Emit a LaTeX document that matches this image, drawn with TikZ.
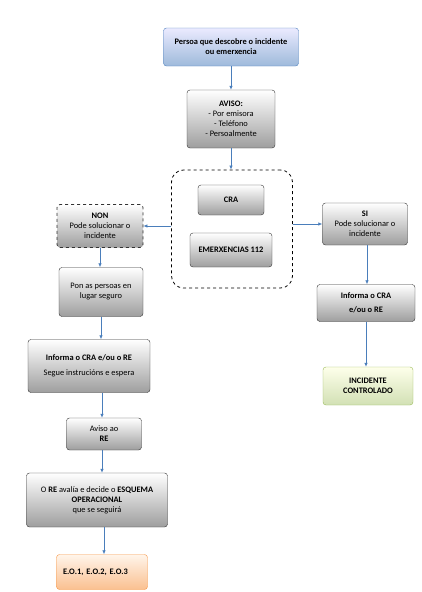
\documentclass[tikz,border=0pt]{standalone}
\usepackage{fontspec}
\setmainfont{Carlito}
\usetikzlibrary{arrows.meta,shadings}

\definecolor{arrowblue}{HTML}{4A7EBB}
\definecolor{blueline}{HTML}{4F81BD}
\definecolor{greenline}{HTML}{9BBB59}
\definecolor{orangeline}{HTML}{F79646}

\begin{document}
\begin{tikzpicture}[
  x=1pt, y=-1pt,
  >={Latex[length=4pt,width=3.5pt]},
  every node/.style={font=\fontsize{8.4}{10}\selectfont, align=center, inner sep=2pt},
  graybox/.style={draw=black!80, rounded corners=3pt, top color=white, bottom color=black!38, thin},
  bluebox/.style={draw=blueline, rounded corners=3pt, top color=blue!8, bottom color=blueline!55, thin},
  greenbox/.style={draw=greenline, rounded corners=3pt, top color=green!6!yellow!8, bottom color=greenline!45, thin},
  orangebox/.style={draw=orangeline, rounded corners=3pt, top color=orange!8, bottom color=orangeline!60, thin},
  arr/.style={->, draw=arrowblue, fill=arrowblue, line width=0.7pt}
]
\useasboundingbox (0,0) rectangle (422,592);

% Start
\node[bluebox, minimum width=135pt, minimum height=38pt] (persoa) at (231,47)
  {\textbf{Persoa que descobre o incidente}\\\textbf{ou emerxencia}};
\node[graybox, minimum width=88pt, minimum height=58pt] (aviso) at (231,119)
  {\textbf{AVISO:}\\- Por emisora\\- Teléfono\\- Persoalmente};

% Dashed group
\node[draw, dashed, thick, rounded corners=12pt, minimum width=121pt, minimum height=118pt] (grupo) at (232,229) {};
\node[graybox, minimum width=66pt, minimum height=30pt] (cra) at (231,200) {\textbf{CRA}};
\node[graybox, minimum width=82pt, minimum height=34pt] (emer) at (231,250) {\textbf{EMERXENCIAS 112}};

% Left branch
\node[graybox, dashed, thick, minimum width=86pt, minimum height=43pt] (non) at (100,226)
  {\textbf{NON}\\Pode solucionar o\\incidente};
\node[graybox, minimum width=84pt, minimum height=49pt] (pon) at (101,292)
  {Pon as persoas en\\lugar seguro};
\node[graybox, minimum width=122pt, minimum height=53pt] (informaL) at (89,366)
  {\textbf{Informa o CRA e/ou o RE}\\[5pt]Segue instrucións e espera};
\node[graybox, minimum width=75pt, minimum height=32pt] (avisore) at (104,434)
  {Aviso ao\\\textbf{RE}};
\node[graybox, minimum width=141pt, minimum height=54pt] (avalia) at (97,500)
  {O \textbf{RE} avalía e decide o \textbf{ESQUEMA}\\\textbf{OPERACIONAL}\\que se seguirá};
\node[orangebox, minimum width=91pt, minimum height=35pt, text width=78pt, align=left] (eo) at (102,572)
  {\textbf{E.O.1, E.O.2, E.O.3}};

% Right branch
\node[graybox, minimum width=85pt, minimum height=42pt] (si) at (365,224)
  {\textbf{SI}\\Pode solucionar o\\incidente};
\node[graybox, minimum width=98pt, minimum height=37pt] (informaR) at (366,303)
  {\textbf{Informa o CRA}\\[4pt]\textbf{e/ou o RE}};
\node[greenbox, minimum width=90pt, minimum height=38pt] (control) at (368,386)
  {\textbf{INCIDENTE}\\\textbf{CONTROLADO}};

% Arrows
\draw[arr] (persoa.south) -- (persoa.south |- aviso.north);
\draw[arr] (aviso.south) -- (aviso.south |- grupo.north);
\draw[arr] (grupo.west |- non.east) -- (non.east);
\draw[arr] (grupo.east |- si.west) -- (si.west);
\draw[arr] (non.south) -- (non.south |- pon.north);
\draw[arr] (pon.south) -- (pon.south |- informaL.north);
\draw[arr] ([xshift=-2pt]avisore.north |- informaL.south) -- ([xshift=-2pt]avisore.north);
\draw[arr] ([xshift=-2pt]avisore.south) -- ([xshift=-2pt]avisore.south |- avalia.north);
\draw[arr] ([xshift=2pt]eo.north |- avalia.south) -- ([xshift=2pt]eo.north);
\draw[arr] ([xshift=2pt]si.south) -- ([xshift=2pt]si.south |- informaR.north);
\draw[arr] (informaR.south) -- (informaR.south |- control.north);
\end{tikzpicture}
\end{document}
